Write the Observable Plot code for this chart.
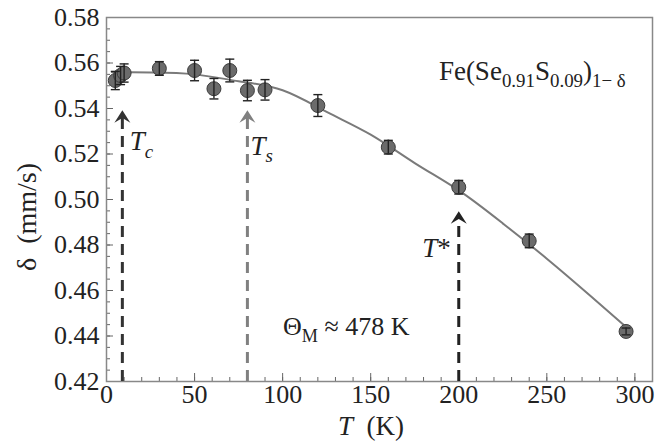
<!DOCTYPE html>
<html><head><meta charset="utf-8">
<script src="https://cdn.jsdelivr.net/npm/d3@7"></script>
<script src="https://cdn.jsdelivr.net/npm/@observablehq/plot@0.6"></script>
<style>
body{margin:0;background:#fff}
svg, svg text, svg tspan{font-family:"Liberation Serif","Times New Roman",Times,serif !important}
</style>
</head><body><div id="chart"></div>
<script>
// measured data
const temps = [5, 8, 10, 30, 50, 61, 70, 80, 90, 120, 160, 200, 240, 295];
const delta = [0.5523, 0.5545, 0.5556, 0.5576, 0.5567, 0.5487, 0.5567, 0.5479, 0.5482, 0.5413, 0.5230, 0.5054, 0.4818, 0.4420];
const errs  = [0.004, 0.004, 0.004, 0.003, 0.0045, 0.0045, 0.005, 0.0045, 0.0045, 0.0048, 0.003, 0.003, 0.003, 0.0015];
// Debye fit curve
const fitT = [3, 25, 50, 75, 100, 125, 150, 175, 200, 225, 250, 275, 295];
const fitDelta = [0.5560, 0.5558, 0.5550, 0.5520, 0.5480, 0.5385, 0.5285, 0.5160, 0.5040, 0.4895, 0.4740, 0.4575, 0.4440];
// characteristic temperatures
const markerT = [9, 80, 200];
const markerTip = [0.5392, 0.5392, 0.4948];
const markerColor = ["#333333", "#808080", "#222222"];
// ticks
const xMajor = [0, 50, 100, 150, 200, 250, 300];
const xMinor = d3.range(0, 311, 10);
const yMajor = [0.42, 0.44, 0.46, 0.48, 0.50, 0.52, 0.54, 0.56, 0.58];
const yMinor = d3.range(0, 33).map(i => 0.42 + i * 0.005);

const points = temps.map((t, i) => ({T: t, d: delta[i], e: errs[i]}));
const fit = fitT.map((t, i) => ({T: t, d: fitDelta[i]}));
const markers = markerT.map((t, i) => ({T: t, tip: markerTip[i], color: markerColor[i]}));

const FONT = '"Liberation Serif", "Times New Roman", Times, serif';

const chevron = {draw(ctx, size) {
  const r = Math.sqrt(size / Math.PI);
  ctx.moveTo(0, 0);
  ctx.lineTo(r, 1.55 * r);
  ctx.lineTo(0, 0.95 * r);
  ctx.lineTo(-r, 1.55 * r);
  ctx.closePath();
}};
const cap = {draw(ctx, size) {
  const r = Math.sqrt(size / Math.PI);
  ctx.moveTo(-r, 0);
  ctx.lineTo(r, 0);
}};

const markerMarks = markers.flatMap(m => [
  Plot.ruleX([m], {x: "T", y1: 0.42, y2: d => d.tip - 0.002, stroke: m.color, strokeWidth: 3, strokeDasharray: "11,7"}),
  Plot.dot([m], {x: "T", y: "tip", symbol: chevron, r: 8, fill: m.color, stroke: "none"})
]);

const chart = Plot.plot({
  width: 667, height: 443,
  marginLeft: 106, marginRight: 15, marginTop: 17, marginBottom: 62,
  style: {fontSize: "26px", fontFamily: FONT, background: "#fff", color: "#222"},
  x: {domain: [0, 310]},
  y: {domain: [0.42, 0.58]},
  marks: [
    Plot.axisY(yMinor, {anchor: "left", tickSize: 4, dx: 4, fill: "none", label: null, stroke: "#666"}),
    Plot.axisY(yMajor, {anchor: "left", tickSize: 7, dx: 7, fill: "none", label: null, stroke: "#666"}),
    Plot.axisY(yMajor, {anchor: "left", tickSize: 0, tickPadding: 7, tickFormat: d3.format(".2f"), label: null, fill: "#222"}),
    Plot.axisX(xMinor, {anchor: "bottom", tickSize: 4, dy: -4, fill: "none", label: null, stroke: "#666"}),
    Plot.axisX(xMajor, {anchor: "bottom", tickSize: 8, dy: -8, fill: "none", label: null, stroke: "#666"}),
    Plot.axisX(xMajor, {anchor: "bottom", tickSize: 0, tickPadding: 3, label: null, fill: "#222"}),
    Plot.frame({stroke: "#888", strokeWidth: 1.5}),
    ...markerMarks,
    Plot.line(fit, {x: "T", y: "d", curve: "natural", stroke: "#7a7a7a", strokeWidth: 2}),
    Plot.dot(points, {x: "T", y: "d", r: 7, fill: "#6b6b6b", stroke: "#3c3c3c", strokeWidth: 1}),
    Plot.ruleX(points, {x: "T", y1: d => d.d - d.e, y2: d => d.d + d.e, stroke: "#222", strokeWidth: 1.4}),
    Plot.dot(points, {x: "T", y: d => d.d - d.e, symbol: cap, r: 4.5, stroke: "#222", strokeWidth: 1.4, fill: "none"}),
    Plot.dot(points, {x: "T", y: d => d.d + d.e, symbol: cap, r: 4.5, stroke: "#222", strokeWidth: 1.4, fill: "none"})
  ]
});
document.getElementById("chart").appendChild(chart);

// rich-text annotations placed through the chart's scales
const sx = v => chart.scale("x").apply(v);
const sy = v => chart.scale("y").apply(v);
const svg = d3.select(chart);
function rich(x, y, parts, size, anchor = "start", rotate = null) {
  const t = svg.append("text").attr("x", x).attr("y", y)
    .attr("font-size", size).attr("fill", "#222").attr("text-anchor", anchor)
    .style("font-family", FONT).style("white-space", "pre");
  if (rotate !== null) t.attr("transform", `rotate(${rotate},${x},${y})`);
  let shift = 0;
  for (const p of parts) {
    const target = p.sub ? size * 0.28 : 0;
    const ts = t.append("tspan").text(p.t).attr("dy", target - shift);
    shift = target;
    if (p.sub) ts.attr("font-size", size * 0.7);
    if (p.it) ts.attr("font-style", "italic");
  }
  return t;
}
rich(sx(13.5), sy(0.5215), [{t: "T", it: true}, {t: "c", it: true, sub: true}], 27);
rich(sx(82), sy(0.5195), [{t: "T", it: true}, {t: "s", it: true, sub: true}], 27);
rich(sx(179.5), sy(0.4745), [{t: "T", it: true}, {t: "*"}], 27);
rich(sx(100.5), sy(0.4402), [{t: "Θ"}, {t: "M", sub: true}, {t: " ≈ 478 K"}], 26);
rich(sx(189), sy(0.5524), [{t: "Fe(Se"}, {t: "0.91", sub: true}, {t: "S"}, {t: "0.09", sub: true}, {t: ")"}, {t: "1− δ", sub: true}], 27);
rich((sx(0) + sx(310)) / 2 - 8, 435, [{t: "T", it: true}, {t: "  (K)"}], 27, "middle");
rich(36, (sy(0.42) + sy(0.58)) / 2 + 18, [{t: "δ  (mm/s)"}], 28, "middle", -90);
</script>
</body></html>
